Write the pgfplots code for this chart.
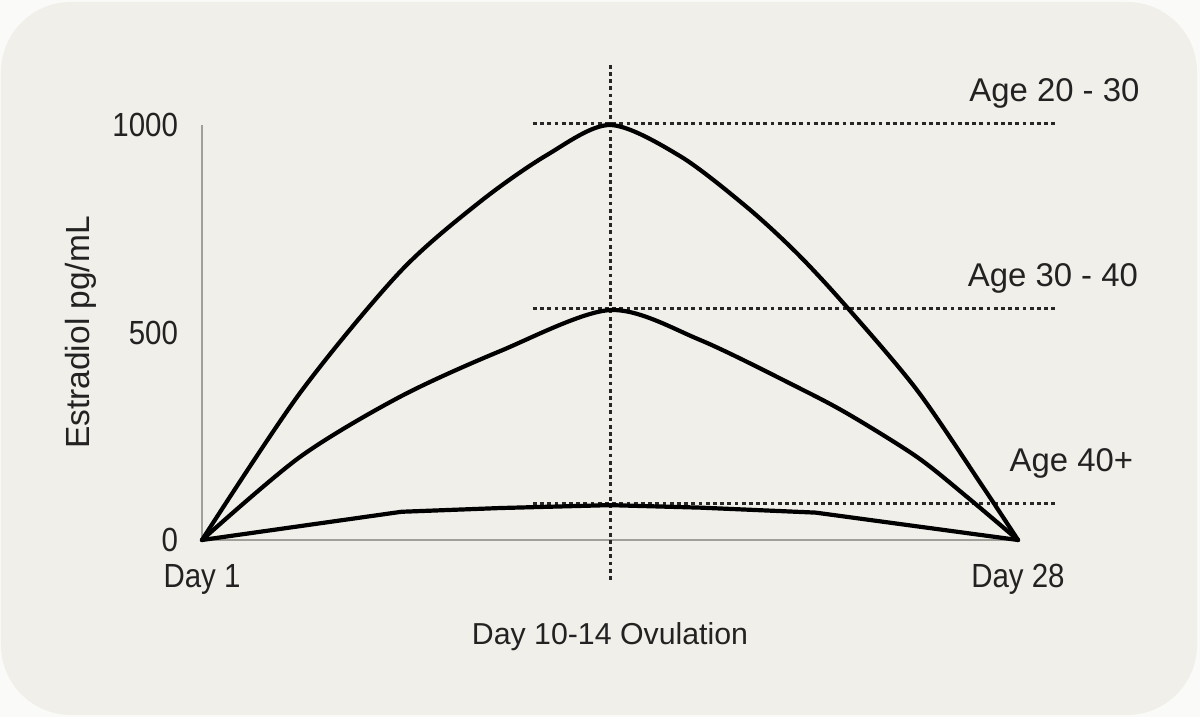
\documentclass[border=0pt]{standalone}
\usepackage{pgfplots}
\pgfplotsset{compat=1.18}
\usepackage{fontspec}
\setmainfont{Liberation Sans}
\newfontfamily\condensed{Liberation Sans}[FakeStretch=0.88]

\definecolor{panel}{RGB}{241,239,233}
\definecolor{outer}{RGB}{250,250,248}
\definecolor{txt}{RGB}{34,34,34}
\definecolor{spine}{RGB}{160,159,154}

\pgfplotsset{
	refline/.style={color=black!85, line width=1.5bp, dash pattern=on 1.9bp off 1.7bp},
	curve/.style={black, line width=2.1bp, line join=round, line cap=round},
}

\begin{document}
\begin{tikzpicture}
	% page = 1200x717 px, 2 px per bp, origin at the axis corner (202,540)
	\path[use as bounding box, fill=outer] (-101bp,-88.5bp) rectangle (499bp,270bp);
	\fill[panel, rounded corners=35bp] (-100.5bp,-87.5bp) rectangle (497.5bp,269bp);
	\begin{axis}[
		at={(0,0)}, anchor=south west,
		scale only axis, width=408bp, height=207.5bp,
		xmin=1, xmax=28, ymin=0, ymax=1000,
		clip=false,
		axis x line*=bottom, axis y line*=left,
		axis line style={spine, line width=0.9bp},
		tick style={draw=none}, major tick length=0pt,
		xtick={1,28}, xticklabels={Day 1, Day 28},
		ytick={0,500,1000},
		yticklabel style={/pgf/number format/1000 sep={}},
		/pgf/number format/assume math mode=true,
		tick label style={font=\condensed\fontsize{16.8}{19}\selectfont, text=txt},
		xticklabel style={anchor=base, yshift=-23.5bp},
		yticklabel style={anchor=east, xshift=-8.5bp},
		xlabel={Day 10-14 Ovulation},
		xlabel style={font=\fontsize{15.2}{18}\selectfont, text=txt,
			at={(rel axis cs:0.5,-0.253)}, anchor=base},
		ylabel={Estradiol pg/mL},
		ylabel style={font=\fontsize{16.8}{19}\selectfont, text=txt,
			at={(rel axis cs:-0.1379,0.5)}, anchor=base, rotate=0},
	]
	% reference lines
	\addplot[refline] coordinates {(14.5,1145) (14.5,-96)};
	\addplot[refline] coordinates {(11.95,1003) (29.32,1003)};
	\addplot[refline] coordinates {(11.95,559) (29.32,559)};
	\addplot[refline] coordinates {(11.95,89) (29.32,89)};

	% Age 20 - 30
	\addplot[curve, smooth] coordinates {
		(1,0) (4.24,354) (7.55,646) (10.2,815) (12.42,928) (14.5,1000)
		(16.82,925) (19.03,802) (20.7,690) (22.34,561) (24.66,361)
		(26.84,128) (28,0)
	};
	% Age 30 - 40
	\addplot[curve, smooth] coordinates {
		(1,0) (4.24,200) (7.55,345) (10.86,455) (14.5,554)
		(17.48,482) (20.79,365) (22.44,301) (24.66,200) (26.31,104) (28,0)
	};
	% Age 40+
	\addplot[curve, sharp plot] coordinates {
		(1,0) (7.6,68) (10.86,77) (14.5,84) (17.48,78) (21.3,66) (28,0)
	};

	\node[anchor=base east, text=txt, font=\fontsize{16.5}{19}\selectfont] at (axis cs:32.25,1056) {Age 20 - 30};
	\node[anchor=base east, text=txt, font=\fontsize{16.5}{19}\selectfont] at (axis cs:32.2,610) {Age 30 - 40};
	\node[anchor=base east, text=txt, font=\fontsize{16.5}{19}\selectfont] at (axis cs:32.04,165) {Age 40+};
	\end{axis}
\end{tikzpicture}
\end{document}
